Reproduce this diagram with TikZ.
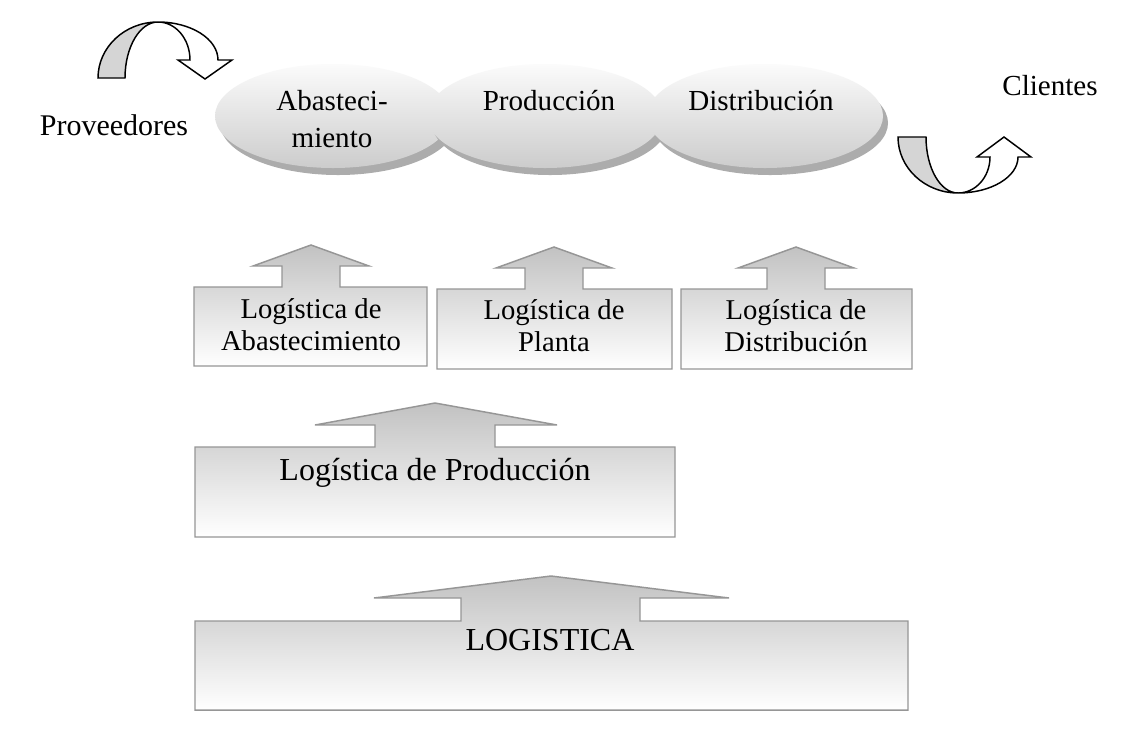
\documentclass[tikz,border=0pt]{standalone}
\usepackage{fontspec}
\setmainfont{Liberation Serif}
\begin{document}
\begin{tikzpicture}[x=0.75pt,y=-0.75pt,
  lbl/.style={inner sep=0pt, font=\fontsize{21.8}{21.8}\selectfont},
  boxtxt/.style={inner sep=0pt, align=center, font=\fontsize{21.5}{24}\selectfont},
  ell/.style={top color=gray!3, bottom color=gray!40, draw=none},
  ellshadow/.style={fill=gray!65, draw=none},
  blockarrow/.style={draw=gray!90!black!75, line width=1.1pt, top color=gray!48, bottom color=white, line join=miter},
  curvgray/.style={draw=black, line width=1.1pt, fill=gray!33, line join=miter},
  curvwhite/.style={draw=black, line width=1.1pt, fill=white, line join=miter}]
\useasboundingbox (0,0) rectangle (1130,751);
\fill[white] (0,0) rectangle (1130,751);

% ---- curved arrow top-left (Proveedores)
\path[curvgray] (98,78) .. controls (98,47.1) and (124.9,22) .. (158,22)
  .. controls (139.8,22) and (125,47.1) .. (125,78) -- cycle;
\path[curvwhite] (158,22) .. controls (191.1,22) and (218,39) .. (218,60)
  -- (232,60) -- (205,79) -- (178,60) -- (190,60)
  .. controls (190,39) and (175.7,22) .. (158,22) -- cycle;

% ---- curved arrow bottom-right (Clientes)
\path[curvgray] (898,137) .. controls (898,167.9) and (924.9,193) .. (958,193)
  .. controls (940.3,193) and (926,167.9) .. (926,137) -- cycle;
\path[curvwhite] (958,193) .. controls (991.1,193) and (1018,176.9) .. (1018,157)
  -- (1031,157) -- (1004,137) -- (977,157) -- (990,157)
  .. controls (990,176.9) and (975.7,193) .. (958,193) -- cycle;

% ---- ellipses
\fill[ellshadow] (338,123) ellipse [x radius=118, y radius=52];
\shade[ell] (333,116) ellipse [x radius=118, y radius=52];
\fill[ellshadow] (550,123) ellipse [x radius=118, y radius=52];
\shade[ell] (545,116) ellipse [x radius=118, y radius=52];
\fill[ellshadow] (770,123) ellipse [x radius=118, y radius=52];
\shade[ell] (765,116) ellipse [x radius=118, y radius=52];

\node[lbl, align=center, font=\fontsize{21.8}{27.75}\selectfont] (abas) at (332,119) {Abasteci-\\miento};
\node[lbl, anchor=base] (prod) at (549,110) {Producción};
\node[lbl, anchor=base] (dist) at (761,110) {Distribución};
\node[lbl, anchor=base, font=\fontsize{22.5}{22.5}\selectfont] (prov) at (114,135) {Proveedores};
\node[lbl, anchor=base] (cli) at (1050,95) {Clientes};

% ---- row 1 block arrows
\path[blockarrow] (194,366) -- (194,287) -- (282,287) -- (282,266) -- (253,266) -- (311,245)
  -- (369,266) -- (340,266) -- (340,287) -- (427,287) -- (427,366) -- cycle;
\path[blockarrow] (437,369) -- (437,289) -- (525,289) -- (525,268) -- (496,268) -- (554,247)
  -- (612,268) -- (583,268) -- (583,289) -- (672,289) -- (672,369) -- cycle;
\path[blockarrow] (681,369) -- (681,289) -- (767,289) -- (767,268) -- (738,268) -- (796,247)
  -- (854,268) -- (825,268) -- (825,289) -- (912,289) -- (912,369) -- cycle;
\node[boxtxt] (la) at (311,325) {Logística de\\Abastecimiento};
\node[boxtxt] (lp) at (554,326) {Logística de\\Planta};
\node[boxtxt] (ld) at (796,326) {Logística de\\Distribución};

% ---- row 2
\path[blockarrow] (195,537) -- (195,447) -- (375,447) -- (375,425) -- (315,425) -- (435,403)
  -- (557,425) -- (495,425) -- (495,447) -- (675,447) -- (675,537) -- cycle;
\node[inner sep=0pt, anchor=base, font=\fontsize{24}{24}\selectfont] (lprod) at (435,480) {Logística de Producción};

% ---- row 3
\path[blockarrow] (195,710) -- (195,621) -- (461,621) -- (461,598) -- (374,598) -- (551,576)
  -- (729,598) -- (640,598) -- (640,621) -- (908,621) -- (908,710) -- cycle;
\node[inner sep=0pt, anchor=base, font=\fontsize{24}{24}\selectfont] (log) at (550,650) {LOGISTICA};
\end{tikzpicture}
\end{document}
